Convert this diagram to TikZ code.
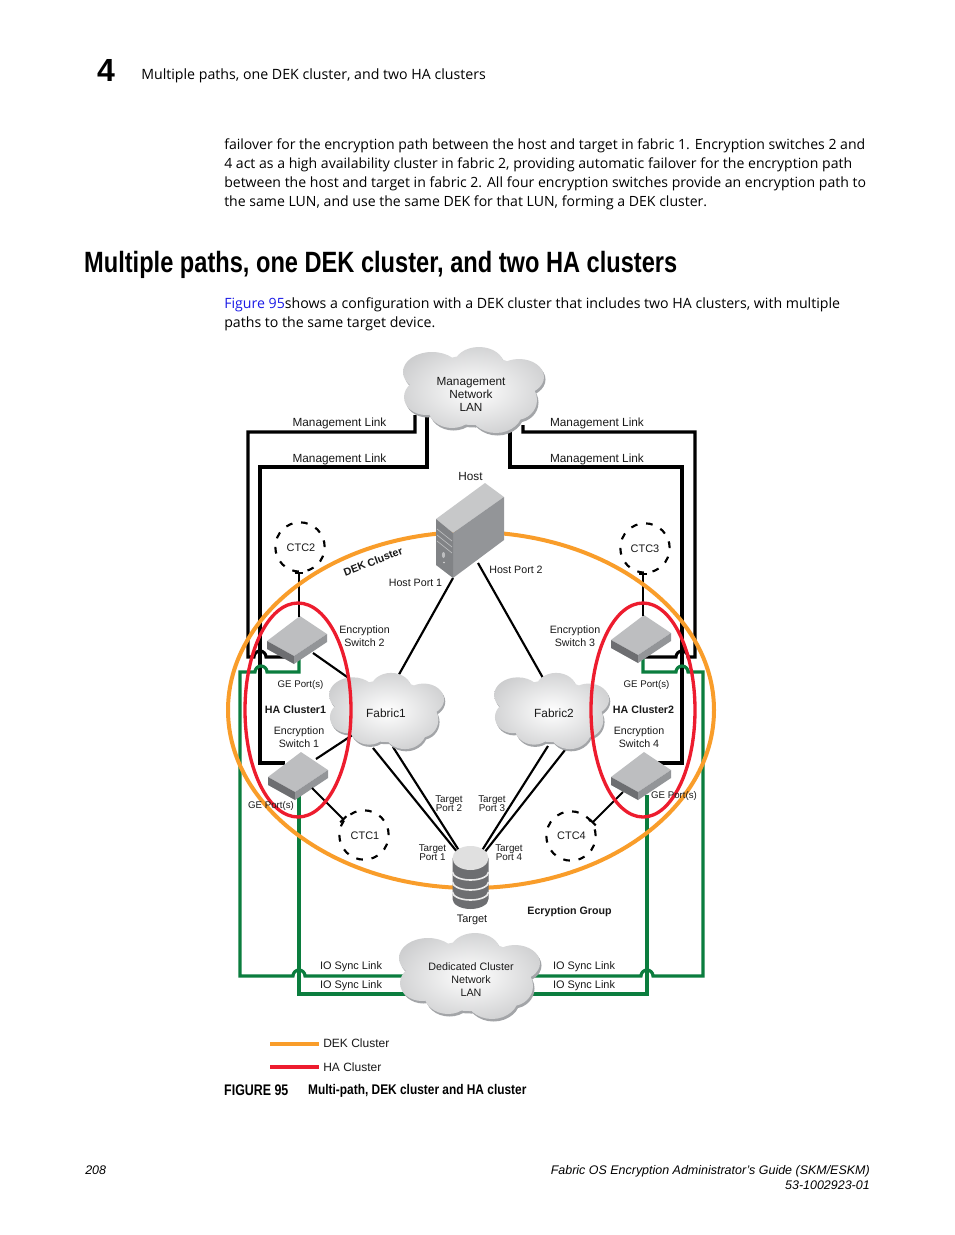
\documentclass[tikz,border=0pt]{standalone}
\usepackage{fontspec}
\setmainfont{Liberation Sans}
\newfontfamily\bodyfont{Open Sans}
\usetikzlibrary{arrows.meta}
\definecolor{dekorange}{HTML}{F99D2A}
\definecolor{hared}{HTML}{ED1C2E}
\definecolor{syncgreen}{HTML}{0B7D3E}
\definecolor{cloudedge}{HTML}{B4B5B7}
\definecolor{cloudshadow}{HTML}{A3A5A8}
\definecolor{lightface}{HTML}{BDBEC0}
\definecolor{midface}{HTML}{939598}
\definecolor{darkface}{HTML}{6D6E71}
\definecolor{linkblue}{HTML}{1A1AE6}
\newcommand{\lobes}{%
  (-42,-18) ellipse[x radius=29,y radius=20]
  (5,-25) ellipse[x radius=25,y radius=18]
  (45,-13) ellipse[x radius=25,y radius=18]
  (-48,7) ellipse[x radius=22,y radius=18]
  (-22,18) ellipse[x radius=24,y radius=20]
  (22,20) ellipse[x radius=27,y radius=23]
  (42,10) ellipse[x radius=21,y radius=20]
  (0,0) ellipse[x radius=58,y radius=35]}
\newcommand{\cloudat}[4]{%
  \begin{scope}[shift={(#1,#2)},xscale=#3,yscale=#4]
    \begin{scope}[shift={(1.5,2.5)}]\fill[cloudshadow] \lobes;\end{scope}
    \begin{scope}
      \clip \lobes;
      \shade[inner color=white,outer color=cloudedge] (0,0) ellipse[x radius=122,y radius=74];
    \end{scope}
  \end{scope}}
\tikzset{
  x=0.75pt,y=-0.75pt,
  lab/.style={font=\fontsize{8.85}{9.75}\selectfont,align=center,inner sep=0pt,text=black!90},
  labs/.style={lab,font=\fontsize{8.2}{9.75}\selectfont},
  labb/.style={lab,font=\fontsize{8}{9.75}\selectfont\bfseries},
  tiny/.style={lab,font=\fontsize{7.4}{6.8}\selectfont},
  port/.style={lab,font=\fontsize{7.25}{9}\selectfont},
  enc/.style={lab,font=\fontsize{8}{9.6}\selectfont},
  body/.style={font=\bodyfont\fontsize{10.55}{13}\selectfont,anchor=base west,inner sep=0pt},
  foot/.style={font=\itshape\fontsize{9.35}{11}\selectfont,inner sep=0pt},
  mgmt/.style={line width=2.3pt,black},
  sync/.style={line width=2.4pt,syncgreen},
  fab/.style={line width=1.6pt,black},
  ctcring/.style={line width=1.6pt,black,dash pattern=on 5pt off 6.6pt},
  ctclink/.style={line width=1.5pt,black,-{Bar[width=6.5pt,length=1.2pt]}},
  dekring/.style={line width=3pt,dekorange},
  haring/.style={line width=2.5pt,hared},
  switchbox/.pic={
    \fill[lightface] (0,0)--(27,18)--(-6,40)--(-33,25)--cycle;
    \fill[darkface] (-33,25)--(-6,40)--(-6,48)--(-33,33)--cycle;
    \fill[midface] (-6,40)--(27,18)--(27,26)--(-6,48)--cycle;
  }
}
\begin{document}
\begin{tikzpicture}
\useasboundingbox (0,0) rectangle (954,1235);
\fill[white] (0,0) rectangle (954,1235);

% page header and text
\node[font=\bfseries\fontsize{24}{26}\selectfont,inner sep=0pt,anchor=base] (chapter) at (106,81.5) {4};
\node[body,font=\bodyfont\fontsize{10.63}{13}\selectfont] (running) at (141,79) {Multiple paths, one DEK cluster, and two HA clusters};
\node[body] (p1) at (224,149) {failover for the encryption path between the host and target in fabric 1. Encryption switches 2 and};
\node[body] (p2) at (224,168) {4 act as a high availability cluster in fabric 2, providing automatic failover for the encryption path};
\node[body] (p3) at (224,187) {between the host and target in fabric 2. All four encryption switches provide an encryption path to};
\node[body] (p4) at (224,206) {the same LUN, and use the same DEK for that LUN, forming a DEK cluster.};
\node[anchor=base west,inner sep=0pt,font=\bfseries\fontsize{22}{24}\selectfont,xscale=0.805] (title) at (84,272) {Multiple paths, one DEK cluster, and two HA clusters};
\node[body,font=\bodyfont\fontsize{10.62}{13}\selectfont] (p5) at (224,308) {\textcolor{linkblue}{Figure 95}shows a configuration with a DEK cluster that includes two HA clusters, with multiple};
\node[body,font=\bodyfont\fontsize{10.62}{13}\selectfont] (p6) at (224,327) {paths to the same target device.};

% anchor points
\coordinate (mA) at (415,415); \coordinate (mB) at (427,415);
\coordinate (mC) at (523,425); \coordinate (mD) at (510,425);
\coordinate (s2m) at (285,657); \coordinate (s1m) at (285,763);
\coordinate (s3m) at (640,657); \coordinate (s4m) at (655,763);
\coordinate (s2g) at (299,655); \coordinate (s3g) at (643,655);
\coordinate (s1g) at (299,795); \coordinate (s4g) at (647,795);
\coordinate (dA) at (410,976); \coordinate (dB) at (410,994);
\coordinate (dC) at (532,976); \coordinate (dD) at (532,994);

% management links
\draw[mgmt] (mA) -- (415,432) -- (248,432) -- (248,657) -- (254,657) arc[start angle=180,end angle=360,radius=6] -- (s2m);
\draw[mgmt] (mB) -- (427,467) -- (260,467) -- (260,763) -- (s1m);
\draw[mgmt] (mC) -- (523,432) -- (695,432) -- (695,657) -- (688,657) arc[start angle=0,end angle=-180,radius=6] -- (s3m);
\draw[mgmt] (mD) -- (510,467) -- (682,467) -- (682,763) -- (s4m);

% IO sync links
\draw[sync] (s2g) -- (299,672) -- (267,672) arc[start angle=0,end angle=-180,radius=6] -- (240,672) -- (240,976) -- (293,976) arc[start angle=180,end angle=360,radius=6] -- (dA);
\draw[sync] (s1g) -- (299,994) -- (dB);
\draw[sync] (s3g) -- (643,672) -- (676,672) arc[start angle=180,end angle=360,radius=6] -- (703,672) -- (703,976) -- (653,976) arc[start angle=0,end angle=-180,radius=6] -- (dC);
\draw[sync] (s4g) -- (647,994) -- (dD);

% fabric / host / target links
\coordinate (hp1) at (453,578); \coordinate (hp2) at (478,563);
\coordinate (f1h) at (397,678); \coordinate (f2h) at (543,678);
\coordinate (s2f) at (313,653); \coordinate (f1s2) at (350,679);
\coordinate (s1f) at (316,759); \coordinate (f1s1) at (354,734);
\coordinate (f1a) at (373,748); \coordinate (f1b) at (393,747);
\coordinate (f2a) at (548,746); \coordinate (f2b) at (565,750);
\coordinate (t1) at (458,853); \coordinate (t2) at (460,852);
\coordinate (t3) at (481,852); \coordinate (t4) at (484,853);
\draw[fab] (hp1) -- (f1h);
\draw[fab] (hp2) -- (f2h);
\draw[fab] (s2f) -- (f1s2);
\draw[fab] (s1f) -- (f1s1);
\draw[fab] (f1a) -- (t1);
\draw[fab] (f1b) -- (t2);
\draw[fab] (f2a) -- (t3);
\draw[fab] (f2b) -- (t4);

% clouds
\cloudat{474}{390}{1}{1}
\cloudat{387}{711}{0.815}{0.886}
\cloudat{552}{711}{0.815}{0.886}
\cloudat{470}{976}{1}{1}
\node[lab] (mgmtcloud) at (471,394) {Management\\Network\\LAN};
\node[lab,font=\fontsize{8.9}{11}\selectfont] (fabric1) at (386,713.5) {Fabric1};
\node[lab,font=\fontsize{8.9}{11}\selectfont] (fabric2) at (554,713.5) {Fabric2};
\node[lab,font=\fontsize{8.05}{9.75}\selectfont] (clustercloud) at (471,979.5) {Dedicated Cluster\\Network\\LAN};

% switches
\pic at (300,616) {switchbox};
\pic at (301,752) {switchbox};
\pic at (644,615) {switchbox};
\pic at (644,752) {switchbox};

% CTC
\node[draw,circle,ctcring,minimum size=37pt,inner sep=0pt] (ctc2) at (300,547) {};
\node[draw,circle,ctcring,minimum size=37pt,inner sep=0pt] (ctc3) at (645,548) {};
\node[draw,circle,ctcring,minimum size=37pt,inner sep=0pt] (ctc1) at (364,835) {};
\node[draw,circle,ctcring,minimum size=37pt,inner sep=0pt] (ctc4) at (571,836) {};
\node[labs] (ctc2t) at (301,548) {CTC2};
\node[labs] (ctc3t) at (645,548.5) {CTC3};
\node[labs] (ctc1t) at (365,836) {CTC1};
\node[labs] (ctc4t) at (571.5,835.5) {CTC4};
\coordinate (s2c) at (299,617); \coordinate (c2s) at (299,572);
\coordinate (s3c) at (643,616); \coordinate (c3s) at (643,573);
\coordinate (s1c) at (312,788); \coordinate (c1s) at (344,820);
\coordinate (s4c) at (623,792); \coordinate (c4s) at (592,823);
\draw[ctclink] (s2c) -- (c2s);
\draw[ctclink] (s3c) -- (c3s);
\draw[ctclink] (s1c) -- (c1s);
\draw[ctclink] (s4c) -- (c4s);

% rings
\draw[dekring] (471,710) ellipse[x radius=243,y radius=178];
\draw[haring] (298,710) ellipse[x radius=53,y radius=107];
\draw[haring] (643,710) ellipse[x radius=52,y radius=107];

% host
\fill[lightface!85!white] (485,483)--(504,497)--(453,533)--(436,519)--cycle;
\fill[midface] (453,533)--(504,497)--(504,540)--(453,578)--cycle;
\fill[midface!88!black] (436,519)--(453,533)--(453,578)--(436,565)--cycle;
\draw[lightface,line width=0.5pt] (437,529)--(452,541) (437,535)--(452,547) (437,541)--(452,553);
\fill[lightface] (443.5,555) ellipse[x radius=1.6,y radius=3];
\fill[white!85!black] (444,562.5) circle[radius=0.9];

% target
\fill[darkface] (452.5,858) -- (452.5,899) arc[start angle=180,end angle=0,x radius=18,y radius=10] -- (488.5,858) -- cycle;
\draw[white!92!black,line width=1.2pt] (452.5,872) arc[start angle=180,end angle=0,x radius=18,y radius=8];
\draw[white!92!black,line width=1.2pt] (452.5,882) arc[start angle=180,end angle=0,x radius=18,y radius=8];
\draw[white!92!black,line width=1.2pt] (452.5,892) arc[start angle=180,end angle=0,x radius=18,y radius=8];
\fill[white!88!black] (470.5,858) ellipse[x radius=18,y radius=12];

% labels
\node[lab] (ml1) at (339.5,423) {Management Link};
\node[lab] (ml2) at (339.5,459) {Management Link};
\node[lab] (ml3) at (597,423) {Management Link};
\node[lab] (ml4) at (597,459) {Management Link};
\node[lab] (hostt) at (470.5,476.5) {Host};
\node[labs,font=\fontsize{8}{9.75}\selectfont] (hp1t) at (415.5,582.5) {Host Port 1};
\node[labs,font=\fontsize{8}{9.75}\selectfont] (hp2t) at (516,569.5) {Host Port 2};
\node[labb,rotate=21] (dekt) at (373,561.5) {DEK Cluster};
\node[enc] (es2) at (364.5,636.5) {Encryption\\Switch 2};
\node[enc] (es3) at (575,636) {Encryption\\Switch 3};
\node[enc] (es1) at (299,737) {Encryption\\Switch 1};
\node[enc] (es4) at (639,737) {Encryption\\Switch 4};
\node[port] (ge2) at (300.5,685) {GE Port(s)};
\node[port] (ge3) at (646.5,685) {GE Port(s)};
\node[port] (ge1) at (271,806) {GE Port(s)};
\node[port] (ge4) at (674,796) {GE Port(s)};
\node[labb] (ha1) at (295.5,709.5) {HA Cluster1};
\node[labb] (ha2) at (643.5,709.5) {HA Cluster2};
\node[tiny] (tp2) at (449,803.5) {Target\\Port 2};
\node[tiny] (tp3) at (492,803.5) {Target\\Port 3};
\node[tiny] (tp1) at (432.5,852.5) {Target\\Port 1};
\node[tiny] (tp4) at (509,852.5) {Target\\Port 4};
\node[labs] (targett) at (472,920) {Target};
\node[labb] (egt) at (569.5,911.5) {Ecryption Group};
\node[labs] (io1) at (351,967) {IO Sync Link};
\node[labs] (io2) at (351,986) {IO Sync Link};
\node[labs] (io3) at (584,967) {IO Sync Link};
\node[labs] (io4) at (584,986) {IO Sync Link};

% legend
\coordinate (lo1) at (270,1043.5); \coordinate (lo2) at (319,1043.5);
\coordinate (lr1) at (270,1067); \coordinate (lr2) at (319,1067);
\draw[dekring] (lo1) -- (lo2);
\draw[haring,line width=3pt] (lr1) -- (lr2);
\node[lab,anchor=west,font=\fontsize{9}{11}\selectfont] (legd) at (323,1043.5) {DEK Cluster};
\node[lab,anchor=west,font=\fontsize{9}{11}\selectfont] (legh) at (323,1067) {HA Cluster};

% caption and footer
\node[anchor=base west,inner sep=0pt,font=\bfseries\fontsize{11.5}{13}\selectfont,xscale=0.81] (figno) at (224,1095) {FIGURE 95};
\node[anchor=base west,inner sep=0pt,font=\bfseries\fontsize{10.5}{13}\selectfont,xscale=0.85] (figcap) at (308,1094) {Multi-path, DEK cluster and HA cluster};
\node[foot,anchor=base west] (pageno) at (85,1174) {208};
\node[foot,anchor=base east] (f1) at (870,1174) {Fabric OS Encryption Administrator’s Guide (SKM/ESKM)};
\node[foot,anchor=base east] (f2) at (870,1189) {53-1002923-01};
\end{tikzpicture}
\end{document}
